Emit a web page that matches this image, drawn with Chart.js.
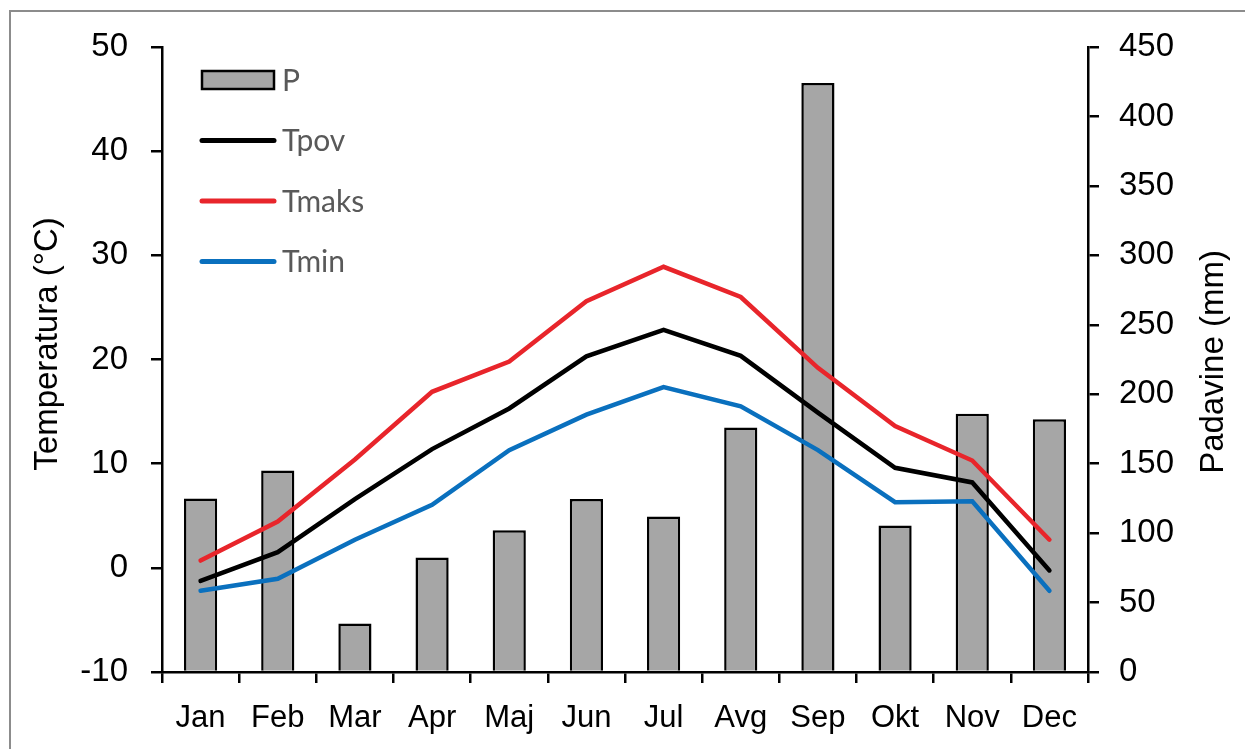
<!DOCTYPE html>
<html>
<head>
<meta charset="utf-8">
<script src="https://cdn.jsdelivr.net/npm/chart.js@4.4.1/dist/chart.umd.min.js"></script>
<style>
  html, body { margin: 0; padding: 0; background: #fff; }
  #wrap { position: relative; width: 1245px; height: 749px; }
</style>
</head>
<body>
<div id="wrap"><canvas id="chart" width="1245" height="749"></canvas></div>
<script>
// data
const months = ['Jan', 'Feb', 'Mar', 'Apr', 'Maj', 'Jun', 'Jul', 'Avg', 'Sep', 'Okt', 'Nov', 'Dec'];
const padavine = [125, 145, 35, 82.5, 102, 124.5, 112, 176, 424, 105.5, 186, 182];   // P (mm)
const tPov  = [-1.25, 1.5, 6.6, 11.4, 15.3, 20.3, 22.85, 20.35, 14.9, 9.6, 8.2, -0.25];
const tMaks = [0.7, 4.45, 10.4, 16.9, 19.8, 25.6, 28.9, 26.0, 19.2, 13.6, 10.3, 2.7];
const tMin  = [-2.2, -1.05, 2.7, 6.05, 11.3, 14.7, 17.35, 15.5, 11.3, 6.3, 6.4, -2.2];

const tempTicks = [-10, 0, 10, 20, 30, 40, 50];
const rainTicks = [0, 50, 100, 150, 200, 250, 300, 350, 400, 450];

const NUM_FONT = { family: 'Liberation Sans, Arial, sans-serif', size: 33 };
const MONTH_FONT = { family: 'Liberation Sans, Arial, sans-serif', size: 31 };

// legend, axis titles and the grey frame are drawn by hand
const decorations = {
  id: 'decorations',
  afterDraw(chart) {
    const ctx = chart.ctx;
    const a = chart.chartArea;
    ctx.save();

    // outer frame
    ctx.strokeStyle = '#8c8c8c';
    ctx.lineWidth = 2;
    ctx.strokeRect(10, 11, 1400, 900);

    // axis titles
    ctx.fillStyle = '#000';
    ctx.font = '33px Liberation Sans, Arial, sans-serif';
    ctx.textAlign = 'center';
    ctx.textBaseline = 'middle';
    ctx.save();
    ctx.translate(48, 344);
    ctx.rotate(-Math.PI / 2);
    ctx.fillText('Temperatura (°C)', 0, 0);
    ctx.restore();
    ctx.save();
    ctx.translate(1214, 362);
    ctx.rotate(-Math.PI / 2);
    ctx.fillText('Padavine (mm)', 0, 0);
    ctx.restore();

    // legend
    const x0 = a.left + 40, x1 = a.left + 112;
    const items = [
      { label: 'P', type: 'box' },
      { label: 'Tpov', color: '#000000' },
      { label: 'Tmaks', color: '#e8252b' },
      { label: 'Tmin', color: '#0a70be' }
    ];
    ctx.font = '30px Lato, "Noto Sans", sans-serif';
    ctx.textAlign = 'left';
    items.forEach((it, i) => {
      const y = a.top + 33 + i * 60.5;
      if (it.type === 'box') {
        ctx.fillStyle = '#a6a6a6';
        ctx.fillRect(x0, y - 9, x1 - x0, 18);
        ctx.strokeStyle = '#000';
        ctx.lineWidth = 2.5;
        ctx.strokeRect(x0, y - 9, x1 - x0, 18);
      } else {
        ctx.strokeStyle = it.color;
        ctx.lineWidth = 5;
        ctx.lineCap = 'round';
        ctx.beginPath();
        ctx.moveTo(x0, y);
        ctx.lineTo(x1, y);
        ctx.stroke();
      }
      ctx.fillStyle = '#595959';
      ctx.fillText(it.label, x1 + 8, y + 1);
    });
    ctx.restore();
  }
};

const lineStyle = (label, data, color) => ({
  type: 'line',
  label: label,
  data: data,
  yAxisID: 'y',
  borderColor: color,
  backgroundColor: color,
  borderWidth: 4.5,
  borderCapStyle: 'round',
  borderJoinStyle: 'miter',
  pointRadius: 0,
  tension: 0,
  order: 1
});

new Chart(document.getElementById('chart'), {
  data: {
    labels: months,
    datasets: [
      {
        type: 'bar',
        label: 'P',
        data: padavine,
        yAxisID: 'y1',
        backgroundColor: '#a6a6a6',
        borderColor: '#000',
        borderWidth: 2.5,
        categoryPercentage: 1,
        barPercentage: 0.43,
        order: 2
      },
      lineStyle('Tpov', tPov, '#000000'),
      lineStyle('Tmaks', tMaks, '#e8252b'),
      lineStyle('Tmin', tMin, '#0a70be')
    ]
  },
  options: {
    responsive: false,
    animation: false,
    layout: { padding: { top: 47, left: 0, right: 0, bottom: 0 } },
    plugins: {
      legend: { display: false },
      tooltip: { enabled: false }
    },
    scales: {
      x: {
        offset: true,
        grid: {
          offset: true,
          drawOnChartArea: false,
          drawTicks: true,
          tickLength: 11,
          color: '#000',
          lineWidth: 2.5
        },
        border: { display: true, color: '#000', width: 2.5 },
        ticks: { color: '#000', font: MONTH_FONT, padding: 17, maxRotation: 0 },
        afterFit: s => { s.height = 77; }
      },
      y: {
        position: 'left',
        min: -10,
        max: 50,
        afterBuildTicks: s => { s.ticks = tempTicks.map(v => ({ value: v })); },
        grid: {
          drawOnChartArea: false,
          tickLength: 11,
          color: '#000',
          lineWidth: 2.5
        },
        border: { display: true, color: '#000', width: 2.5 },
        ticks: { color: '#000', font: NUM_FONT, padding: 23 },
        afterFit: s => { s.width = 162; }
      },
      y1: {
        position: 'right',
        min: 0,
        max: 450,
        afterBuildTicks: s => { s.ticks = rainTicks.map(v => ({ value: v })); },
        grid: {
          drawOnChartArea: false,
          tickLength: 11,
          color: '#000',
          lineWidth: 2.5
        },
        border: { display: true, color: '#000', width: 2.5 },
        ticks: { color: '#000', font: NUM_FONT, padding: 20 },
        afterFit: s => { s.width = 157; }
      }
    }
  },
  plugins: [decorations]
});
</script>
</body>
</html>
